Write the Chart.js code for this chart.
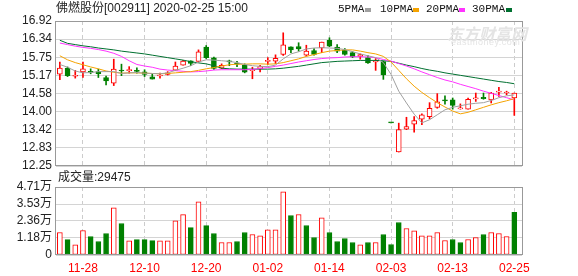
<!DOCTYPE html>
<html>
<head>
<meta charset="utf-8">
<script src="https://cdn.jsdelivr.net/npm/chart.js@4.4.0/dist/chart.umd.min.js"></script>
<style>
  body { margin: 0; background: #fff; }
  #wrap { position: relative; width: 578px; height: 276px; overflow: hidden;
          font-family: "Liberation Sans", "Noto Sans CJK SC", sans-serif; }
  canvas { position: absolute; left: 0; top: 0; }
  .t { position: absolute; white-space: nowrap; color: #222; font-size: 12px; line-height: 14px; }
  .lg { position: absolute; top: 2px; font-family: "Liberation Mono", monospace; font-size: 11px; line-height: 14px; color: #111; }
  .sq { position: absolute; top: 8px; width: 6px; height: 4px; }
  .wm { position: absolute; color: #e4e4e4; white-space: nowrap; }
</style>
</head>
<body>
<div id="wrap">
  <canvas id="price" width="578" height="276"></canvas>
  <canvas id="vol" width="578" height="276"></canvas>
  <div class="t" style="left:56px; top:1px;">佛燃股份[002911] 2020-02-25 15:00</div>
  <div class="lg" style="left:338px;">5PMA</div><div class="sq" style="left:365px; background:#a0a0a0;"></div>
  <div class="lg" style="left:380px;">10PMA</div><div class="sq" style="left:413px; background:#f5a300;"></div>
  <div class="lg" style="left:426px;">20PMA</div><div class="sq" style="left:459px; background:#ff33ff;"></div>
  <div class="lg" style="left:472px;">30PMA</div><div class="sq" style="left:506px; background:#007030;"></div>
  <div class="wm" style="left:447px; top:21px; font-size:16px; font-weight:bold; font-style:italic; font-family:'Noto Sans CJK SC';">东方财富网</div>
  <div class="wm" style="left:451px; top:37px; font-size:9px; letter-spacing:0.5px;">eastmoney.com</div>
  <div class="t" style="left:58px; top:170px; font-size:12px;">成交量:29475</div>
</div>
<script>
// trading days shown (MM-DD)
var dates = ['11-25','11-26','11-27','11-28','11-29','12-02','12-03','12-04','12-05','12-06',
  '12-09','12-10','12-11','12-12','12-13','12-16','12-17','12-18','12-19','12-20',
  '12-23','12-24','12-25','12-26','12-27','12-30','12-31','01-02','01-03','01-06',
  '01-07','01-08','01-09','01-10','01-13','01-14','01-15','01-16','01-17','01-20',
  '01-21','01-22','01-23','02-03','02-04','02-05','02-06','02-07','02-10','02-11',
  '02-12','02-13','02-14','02-17','02-18','02-19','02-20','02-21','02-24','02-25'];

var openP = [15.21,15.40,15.14,15.28,15.30,15.29,15.10,14.92,15.33,15.32,
  15.33,15.28,15.12,15.15,15.20,15.34,15.50,15.64,15.62,16.08,
  15.73,15.40,15.64,15.56,15.50,15.32,15.38,15.62,15.63,15.84,
  16.09,16.10,15.82,15.97,16.05,16.30,16.08,15.98,15.90,15.78,
  15.74,15.60,15.61,13.64,12.70,13.44,13.60,13.76,13.84,14.14,
  14.38,14.38,14.09,14.08,14.41,14.46,14.38,14.63,14.60,14.44];
var highP = [15.60,15.44,15.33,15.60,15.38,15.37,15.15,15.69,15.53,15.45,
  15.41,15.35,15.22,15.24,15.29,15.60,15.65,15.64,15.99,16.13,
  15.76,15.54,15.66,15.62,15.54,15.43,15.49,15.74,15.83,16.54,
  16.09,16.22,16.14,16.03,16.24,16.38,16.16,16.03,15.93,15.86,
  15.81,15.71,15.63,13.64,13.63,13.82,13.84,13.93,14.29,14.58,
  14.51,14.44,14.25,14.44,14.60,14.60,14.62,14.78,14.66,14.60];
var lowP = [15.03,15.13,15.08,15.10,15.22,15.10,14.86,14.84,15.16,15.24,
  15.24,15.13,15.05,15.08,15.18,15.32,15.50,15.48,15.60,15.71,
  15.36,15.38,15.48,15.45,15.25,15.06,15.28,15.52,15.55,15.81,
  15.90,15.95,15.79,15.82,15.90,16.09,15.90,15.82,15.74,15.69,
  15.55,15.33,15.04,13.64,12.70,13.42,13.34,13.58,13.77,14.11,
  14.24,14.08,14.08,14.08,14.33,14.40,14.28,14.49,14.54,13.88];
var closeP = [15.40,15.16,15.16,15.38,15.26,15.22,14.99,15.37,15.31,15.34,
  15.30,15.20,15.05,15.17,15.25,15.47,15.63,15.55,15.93,15.74,
  15.39,15.49,15.60,15.53,15.27,15.34,15.45,15.64,15.72,16.15,
  15.99,16.02,15.95,15.84,16.24,16.11,15.95,15.84,15.76,15.84,
  15.57,15.63,15.18,13.64,13.42,13.52,13.71,13.90,14.11,14.32,
  14.35,14.20,14.11,14.40,14.43,14.42,14.60,14.65,14.62,14.60];

var volume = [15580,10700,7060,16970,12800,9350,14900,32700,21800,9830,
  10700,10700,10000,9830,9830,23700,28000,19000,36800,20400,
  14900,8660,8660,9350,15580,14200,13300,17450,17450,43770,
  27360,28050,20430,12120,25760,15580,9350,11430,8660,7060,
  8660,8660,14200,7270,22500,18350,16760,13300,13300,15580,
  10040,10730,8660,10730,12120,14200,15580,14900,12800,29475];
// 1 = close above previous close (red hollow bar), 0 = green
var volUp = [1,0,1,1,0,0,0,1,0,1, 0,0,0,1,1,1,1,0,1,0,
  0,1,1,0,0,1,1,1,1,1, 0,1,0,0,1,0,0,0,0,1,
  0,1,0,0,0,1,1,1,1,1, 1,0,0,1,1,0,1,1,1,0];

var ma5 = [15.52,15.43,15.31,15.25,15.26,15.29,15.29,15.29,15.23,15.25,
  15.26,15.24,15.23,15.22,15.25,15.33,15.40,15.48,15.60,15.67,
  15.66,15.64,15.62,15.58,15.52,15.48,15.46,15.45,15.50,15.70,
  15.86,15.93,16.02,16.05,16.06,16.05,16.04,16.00,15.93,15.86,
  15.80,15.74,15.58,15.20,14.66,14.28,13.92,13.64,13.74,13.90,
  14.06,14.14,14.19,14.24,14.27,14.29,14.36,14.45,14.51,14.54];
var ma10 = [15.80,15.67,15.58,15.51,15.44,15.38,15.31,15.27,15.24,15.25,
  15.25,15.24,15.23,15.22,15.23,15.25,15.27,15.29,15.33,15.38,
  15.42,15.47,15.51,15.53,15.53,15.54,15.54,15.53,15.54,15.58,
  15.64,15.70,15.78,15.84,15.90,15.95,15.97,15.99,15.99,15.95,
  15.90,15.86,15.78,15.60,15.33,15.06,14.82,14.62,14.45,14.29,
  14.15,14.02,13.93,13.98,14.06,14.14,14.22,14.29,14.35,14.42];
var ma20 = [16.21,16.16,16.11,16.07,16.04,16.00,15.95,15.88,15.78,15.64,
  15.52,15.47,15.43,15.37,15.34,15.32,15.30,15.28,15.29,15.31,
  15.34,15.35,15.35,15.35,15.35,15.36,15.39,15.42,15.46,15.50,
  15.55,15.60,15.64,15.68,15.71,15.73,15.74,15.76,15.77,15.77,
  15.76,15.74,15.68,15.63,15.55,15.47,15.38,15.28,15.19,15.10,
  15.02,14.96,14.88,14.81,14.74,14.66,14.59,14.52,14.45,14.38];
var ma30 = [16.30,16.20,16.16,16.12,16.09,16.05,16.02,15.99,15.95,15.92,
  15.89,15.86,15.82,15.78,15.74,15.70,15.66,15.61,15.57,15.54,
  15.48,15.40,15.38,15.37,15.37,15.37,15.37,15.37,15.38,15.40,
  15.43,15.46,15.50,15.54,15.58,15.60,15.62,15.63,15.64,15.65,
  15.65,15.65,15.64,15.62,15.56,15.50,15.45,15.39,15.34,15.30,
  15.25,15.21,15.17,15.13,15.09,15.05,15.01,14.97,14.94,14.90];

var priceTicks = [12.25, 12.83, 13.42, 14.00, 14.58, 15.17, 15.75, 16.34, 16.92];
var volTicks = [0, 11800, 23600, 35300, 47100];
var volTickLabels = ['0', '1.18万', '2.36万', '3.53万', '4.71万'];
var xTickLabels = ['11-28', '12-10', '12-20', '01-02', '01-14', '02-03', '02-13', '02-25'];

var RED = '#ff0000', GREEN = '#008000';
var FONT = '"Liberation Sans", "Noto Sans CJK SC", sans-serif';

var idx = dates.map(function (d, i) { return i; });
var candleUp = idx.map(function (i) { return closeP[i] > openP[i]; });

function pts(arr) {
  return idx.map(function (i) { return { x: i, y: arr[i] }; });
}
function maLine(arr, color) {
  return { type: 'line', data: pts(arr), borderColor: color, borderWidth: 1,
           pointRadius: 0, tension: 0, order: 0 };
}

var framePlugin = {
  id: 'frame',
  afterDraw: function (chart) {
    var a = chart.chartArea, ctx = chart.ctx;
    ctx.save();
    ctx.strokeStyle = '#999999';
    ctx.lineWidth = 1;
    ctx.strokeRect(Math.round(a.left) - 0.5, Math.round(a.top) + 0.5,
                   Math.round(a.right - a.left) + 1, Math.round(a.bottom - a.top) - 1);
    ctx.restore();
  }
};

function xScale(showLabels, height) {
  return {
    type: 'linear', min: -0.5, max: 60, offset: false,
    grid: { color: '#cccccc', offset: false, drawTicks: false },
    border: { display: false, dash: [4, 3] },
    ticks: { display: showLabels, color: RED, padding: 6, maxRotation: 0, autoSkip: false,
             font: { family: FONT, size: 12 },
             callback: function (v) { return dates[v]; } },
    afterBuildTicks: function (s) {
      s.ticks = xTickLabels.map(function (l) { return { value: dates.indexOf(l) }; });
    },
    afterFit: function (s) { s.height = height; }
  };
}

new Chart(document.getElementById('price'), {
  type: 'bar',
  data: {
    datasets: [
      maLine(ma5, '#a0a0a0'),
      maLine(ma10, '#f5a300'),
      maLine(ma20, '#ff33ff'),
      maLine(ma30, '#007030'),
      {
        data: idx.map(function (i) { return { x: i, y: [openP[i], closeP[i]] }; }),
        backgroundColor: candleUp.map(function (u) { return u ? '#ffffff' : GREEN; }),
        borderColor: candleUp.map(function (u) { return u ? RED : GREEN; }),
        borderWidth: 1, borderSkipped: false, barThickness: 5, minBarLength: 1,
        grouped: false, order: 1
      },
      {
        data: idx.map(function (i) { return { x: i, y: [lowP[i], highP[i]] }; }),
        backgroundColor: candleUp.map(function (u) { return u ? RED : GREEN; }),
        barThickness: 1, grouped: false, order: 2
      }
    ]
  },
  options: {
    responsive: false, animation: false, devicePixelRatio: 1,
    layout: { padding: { top: 21, right: 56, bottom: 110, left: 0 } },
    plugins: { legend: { display: false }, tooltip: { enabled: false } },
    scales: {
      x: xScale(false, 0),
      y: {
        min: 12.25, max: 16.92,
        grid: { color: '#d4d4d4', drawTicks: false },
        border: { display: false },
        ticks: { padding: 4, color: '#222', autoSkip: false, font: { family: FONT, size: 12 },
                 callback: function (v) { return v.toFixed(2); } },
        afterBuildTicks: function (s) {
          s.ticks = priceTicks.map(function (v) { return { value: v }; });
        },
        afterFit: function (s) { s.width = 56; }
      }
    }
  },
  plugins: [framePlugin]
});

new Chart(document.getElementById('vol'), {
  type: 'bar',
  data: {
    datasets: [{
      data: idx.map(function (i) { return { x: i, y: volume[i] }; }),
      backgroundColor: volUp.map(function (u) { return u ? '#ffffff' : GREEN; }),
      borderColor: volUp.map(function (u) { return u ? RED : GREEN; }),
      borderWidth: 1, borderSkipped: false, barThickness: 5, grouped: false
    }]
  },
  options: {
    responsive: false, animation: false, devicePixelRatio: 1,
    layout: { padding: { top: 187, right: 56, bottom: 0, left: 0 } },
    plugins: { legend: { display: false }, tooltip: { enabled: false } },
    scales: {
      x: xScale(true, 21),
      y: {
        min: 0, max: 47100,
        grid: { color: '#d4d4d4', drawTicks: false },
        border: { display: false },
        ticks: { padding: 4, color: '#222', autoSkip: false, font: { family: FONT, size: 12 },
                 callback: function (v, i) { return volTickLabels[i]; } },
        afterBuildTicks: function (s) {
          s.ticks = volTicks.map(function (v) { return { value: v }; });
        },
        afterFit: function (s) { s.width = 56; }
      }
    }
  },
  plugins: [framePlugin]
});
</script>
</body>
</html>
